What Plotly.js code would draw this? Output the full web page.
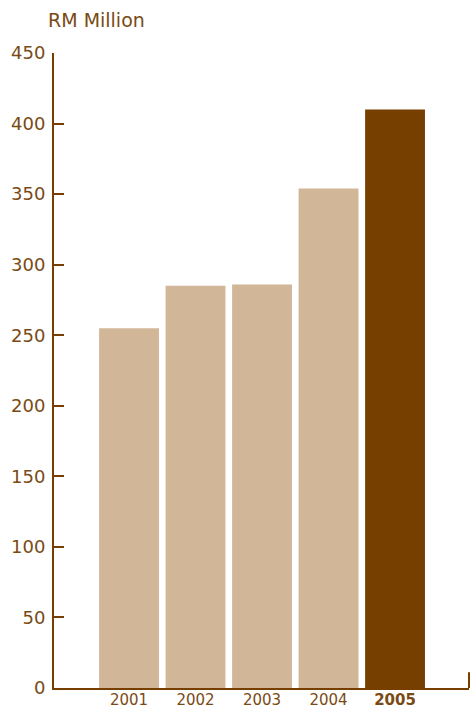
<!DOCTYPE html>
<html>
<head>
<meta charset="utf-8">
<script src="https://cdn.plot.ly/plotly-3.0.1.min.js"></script>
<style>html,body{margin:0;padding:0;background:#fff;}</style>
</head>
<body>
<div id="chart" style="width:471px;height:708px;"></div>
<script>
var years = ["2001", "2002", "2003", "2004", "2005"];
var tickLabels = ["2001", "2002", "2003", "2004", "<b>2005</b>"];
var values = [255, 285, 286, 354, 410];
var barColors = ["#D2B698", "#D2B698", "#D2B698", "#D2B698", "#763F00"];
var yTicks = [0, 50, 100, 150, 200, 250, 300, 350, 400, 450];
var unitLabel = "RM Million";

var textColor = "#7A4A14";
var axisColor = "#763F00";

var trace = {
  type: "bar",
  x: years,
  y: values,
  marker: {color: barColors, line: {width: 0}},
  hoverinfo: "none"
};

var layout = {
  width: 471,
  height: 708,
  margin: {l: 54, r: 2, t: 53, b: 20, pad: 0},
  paper_bgcolor: "#ffffff",
  plot_bgcolor: "#ffffff",
  showlegend: false,
  bargap: 0.1,
  font: {family: "DejaVu Sans, Verdana, sans-serif", color: textColor},
  xaxis: {
    type: "category",
    range: [-1.128, 5.112],
    tickvals: years,
    ticktext: tickLabels,
    ticks: "",
    showgrid: false,
    zeroline: false,
    showline: true,
    linecolor: axisColor,
    linewidth: 2,
    tickfont: {size: 15, color: textColor},
    ticklabelstandoff: -3,
    fixedrange: true
  },
  yaxis: {
    range: [0, 450],
    tickvals: yTicks,
    ticks: "inside",
    ticklen: 10,
    tickwidth: 2,
    tickcolor: axisColor,
    showgrid: false,
    zeroline: false,
    showline: true,
    linecolor: axisColor,
    linewidth: 2,
    tickfont: {size: 18, color: textColor},
    ticklabelstandoff: 3,
    fixedrange: true
  },
  annotations: [{
    text: unitLabel,
    xref: "paper", yref: "paper",
    x: -0.02, y: 1.052,
    xanchor: "left", yanchor: "middle",
    showarrow: false,
    font: {size: 19, color: textColor}
  }],
  shapes: [{
    type: "line",
    xref: "paper", yref: "paper",
    x0: 1, x1: 1, y0: 0, y1: 0.025,
    line: {color: axisColor, width: 2}
  }]
};

Plotly.newPlot("chart", [trace], layout, {displayModeBar: false, staticPlot: true});
</script>
</body>
</html>
